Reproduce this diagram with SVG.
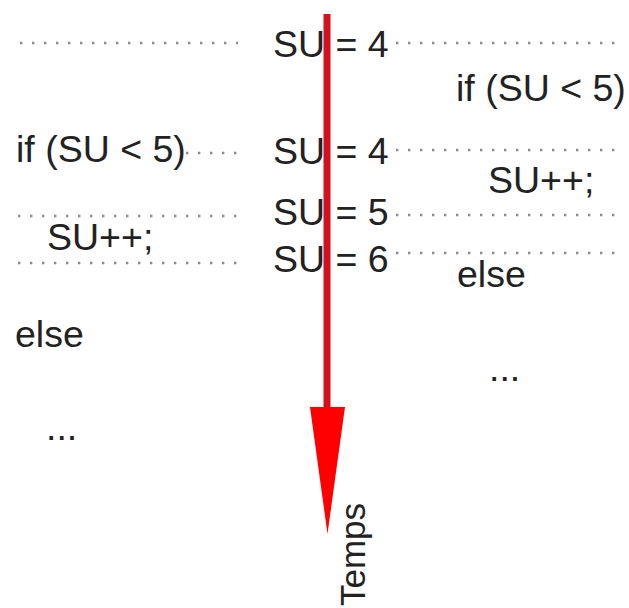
<svg xmlns="http://www.w3.org/2000/svg" width="629" height="608" viewBox="0 0 629 608">
<style>
  .t { font-family: "Liberation Sans", Arial, sans-serif; font-size: 37.5px; fill: #222; }
  .dot { stroke: #8c8c8c; stroke-width: 2.4; stroke-dasharray: 2.4 9.6; fill: none; }
</style>
<rect width="629" height="608" fill="#fff"/>
<g id="connectors">
  <line class="dot" x1="20" y1="43" x2="238" y2="43"/>
  <line class="dot" x1="186" y1="153" x2="238" y2="153"/>
  <line class="dot" x1="18" y1="216" x2="238" y2="216"/>
  <line class="dot" x1="18" y1="263" x2="238" y2="263"/>
  <line class="dot" x1="396" y1="43" x2="620" y2="43"/>
  <line class="dot" x1="396" y1="150" x2="620" y2="150"/>
  <line class="dot" x1="396" y1="215" x2="620" y2="215"/>
  <line class="dot" x1="396" y1="253" x2="620" y2="253"/>
</g>
<g id="state-values">
  <text class="t" x="273" y="57">SU = 4</text>
  <text class="t" x="273" y="164">SU = 4</text>
  <text class="t" x="273" y="225">SU = 5</text>
  <text class="t" x="273" y="272">SU = 6</text>
</g>
<g id="thread-left">
  <text class="t" x="16" y="162">if (SU &lt; 5)</text>
  <text class="t" x="47" y="250">SU++;</text>
  <text class="t" x="15" y="347">else</text>
  <text class="t" x="46" y="440">...</text>
</g>
<g id="thread-right">
  <text class="t" x="456" y="101">if (SU &lt; 5)</text>
  <text class="t" x="488" y="193">SU++;</text>
  <text class="t" x="457" y="287">else</text>
  <text class="t" x="489" y="381">...</text>
</g>
<g id="time-arrow">
  <line x1="327" y1="14" x2="327" y2="410" stroke="#d3101c" stroke-width="7"/>
  <polygon points="310,407 345,407 327.5,534" fill="#ff0000"/>
  <text class="t" style="font-size:35px" transform="translate(365,606) rotate(-90)">Temps</text>
</g>
</svg>
